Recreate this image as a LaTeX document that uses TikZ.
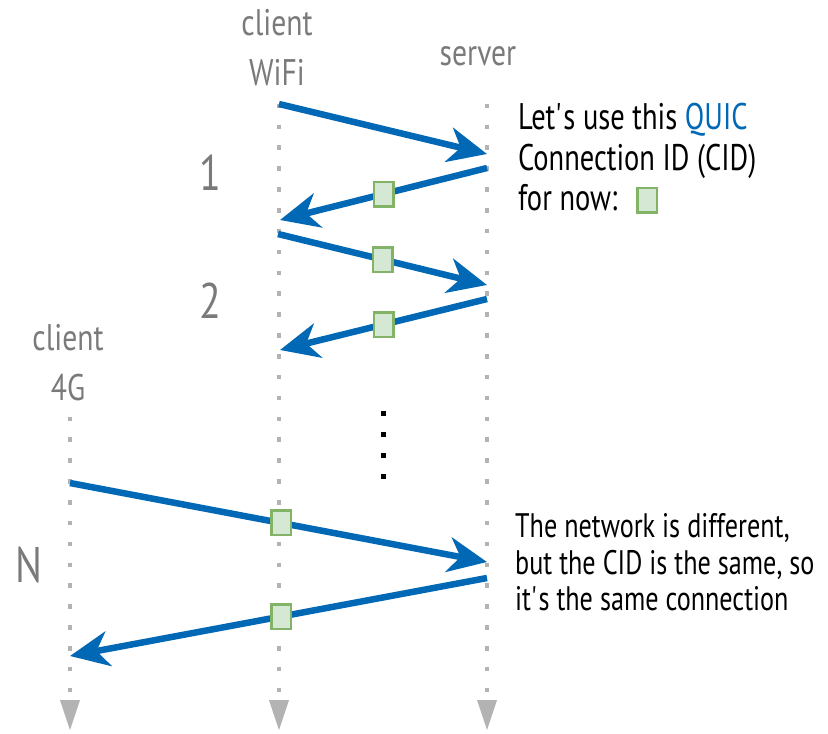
\documentclass[tikz,border=0pt]{standalone}
\usepackage{fontspec}
\newfontfamily\cond[FakeStretch=0.8]{PT Sans}
\newfontfamily\condnote[FakeStretch=0.77]{PT Sans}
\usetikzlibrary{arrows.meta}
\definecolor{msgblue}{HTML}{0068B5}
\definecolor{cidfill}{HTML}{D5E8D4}
\definecolor{cidedge}{HTML}{82B366}
\definecolor{dotgray}{HTML}{B3B3B3}
\definecolor{labelgray}{HTML}{7A7A7A}
\begin{document}
\begin{tikzpicture}[x=1pt,y=-1pt,
  lifeline/.style={dotgray, line width=4.5pt, dash pattern=on 4.5pt off 16.357pt},
  endmark/.style={fill=dotgray},
  msg/.style={msgblue, line width=6.5pt, -{Stealth[length=39pt,width=35pt,inset=12pt]}},
  cid/.style={draw=cidedge, fill=cidfill, line width=2.5pt, minimum width=19.5pt, minimum height=24.5pt, inner sep=0pt},
  actor/.style={font=\cond\fontsize{37}{40}\selectfont, text=labelgray, anchor=base, inner sep=0pt},
  steplabel/.style={font=\cond\fontsize{50}{56}\selectfont, text=labelgray, anchor=base, inner sep=0pt},
  note/.style={font=\condnote\fontsize{37}{41}\selectfont, anchor=base west, inner sep=0pt},
  smallnote/.style={font=\condnote\fontsize{34}{37}\selectfont, anchor=base west, inner sep=0pt},
  ellipsisdot/.style={fill=black, minimum size=5pt, inner sep=0pt},
]
\useasboundingbox (0,0) rectangle (828,734);

% lifelines
\coordinate (g4top) at (70,416.61);  \coordinate (g4bot) at (70,692.25);
\coordinate (wftop) at (279,103.75); \coordinate (wfbot) at (279,692.25);
\coordinate (svtop) at (487,103.75); \coordinate (svbot) at (487,692.25);
\draw[lifeline] (g4top) -- (g4bot);
\draw[lifeline] (wftop) -- (wfbot);
\draw[lifeline] (svtop) -- (svbot);

% end markers
\foreach \x in {70,279,487}
  \fill[endmark] (\x-10,700) -- (\x+10,700) -- (\x,730) -- cycle;

% actor labels
\node[actor] (wifiA) at (277,35) {client};
\node[actor] (wifiB) at (277,85) {WiFi};
\node[actor] (srv)   at (478,65) {server};
\node[actor] (g4A)   at (68,350) {client};
\node[actor] (g4B)   at (68,400) {4G};

% step numbers
\node[steplabel] (n1) at (210,190) {1};
\node[steplabel] (n2) at (210,318) {2};
\node[steplabel] (nN) at (29,582) {N};

% message end points
\coordinate (w1) at (279,104); \coordinate (s1) at (487,154);
\coordinate (s2) at (487,168); \coordinate (w2) at (280,220);
\coordinate (w3) at (278,234); \coordinate (s3) at (487,285);
\coordinate (s4) at (487,299); \coordinate (w4) at (280,350);
\coordinate (g6) at (70,483);  \coordinate (s6) at (487,562);
\coordinate (s7) at (487,578); \coordinate (g7) at (70,656);

% messages
\draw[msg] (w1) -- (s1);
\draw[msg] (s2) -- node[cid] (c2) {} (w2);
\draw[msg] (w3) -- node[cid] (c3) {} (s3);
\draw[msg] (s4) -- node[cid] (c4) {} (w4);
\draw[msg] (g6) -- node[cid, pos=0.506] (c6) {} (s6);
\draw[msg] (s7) -- node[cid, pos=0.494] (c7) {} (g7);

% vertical ellipsis
\foreach \y [count=\i] in {413,434,455,476}
  \node[ellipsisdot] (e\i) at (383,\y) {};

% notes
\node[note] (q1) at (518,129) {Let\textquotesingle s use this \textcolor{msgblue}{QUIC}};
\node[note] (q2) at (518,170) {Connection ID (CID)};
\node[note] (q3) at (518,210) {for now:};
\node[cid] (qbox) at (647,200) {};

\node[smallnote] (b1) at (515,537) {The network is different,};
\node[smallnote] (b2) at (515,574) {but the CID is the same, so};
\node[smallnote] (b3) at (515,610) {it\textquotesingle s the same connection};
\end{tikzpicture}
\end{document}
